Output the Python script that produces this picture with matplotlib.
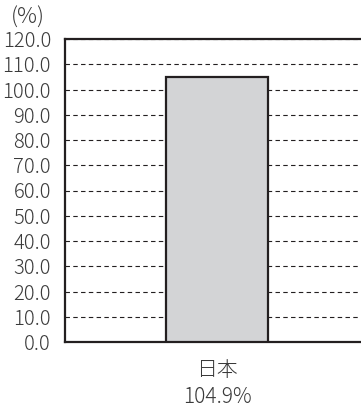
import matplotlib.pyplot as plt

plt.rcParams['font.family'] = ['Noto Sans CJK JP', 'DejaVu Sans']
plt.rcParams['font.weight'] = 'light'

# データ
categories = ['日本']
values = [104.9]
yticks = [0, 10, 20, 30, 40, 50, 60, 70, 80, 90, 100, 110, 120]

fig = plt.figure(figsize=(3.61, 4.08), dpi=100)
ax = fig.add_axes([65 / 361, 1 - 342 / 408, 1 - 65 / 361, (342 - 39) / 408])

# 棒グラフ
ax.bar(range(len(categories)), values, width=0.5, color='#d3d4d6',
       edgecolor='#231f20', linewidth=1.6, zorder=3)

ax.set_xlim(-0.745, 0.706)
ax.set_ylim(0, 120)
ax.set_yticks(yticks)
ax.set_yticklabels([f'{v:.1f}' for v in yticks])
ax.set_xticks(range(len(categories)))
ax.set_xticklabels([f'{c}\n{v}%' for c, v in zip(categories, values)],
                   linespacing=1.3)

# 目盛り
ax.tick_params(axis='y', length=0, pad=10, labelsize=14.5, labelcolor='#3a3a3a')
ax.tick_params(axis='x', length=0, pad=12, labelsize=15, labelcolor='#3a3a3a')

# 破線グリッド
ax.yaxis.grid(True, linestyle=(0, (4, 3)), color='#231f20', linewidth=0.8, zorder=0)
ax.set_axisbelow(True)

for side in ['left', 'bottom', 'top']:
    ax.spines[side].set_linewidth(1.6)
    ax.spines[side].set_color('#231f20')
ax.spines['right'].set_visible(False)

fig.text(28 / 361, 1 - 18 / 408, '(%)', ha='center', va='center',
         fontsize=16, color='#3a3a3a')

fig.savefig('out.png', dpi=100)
